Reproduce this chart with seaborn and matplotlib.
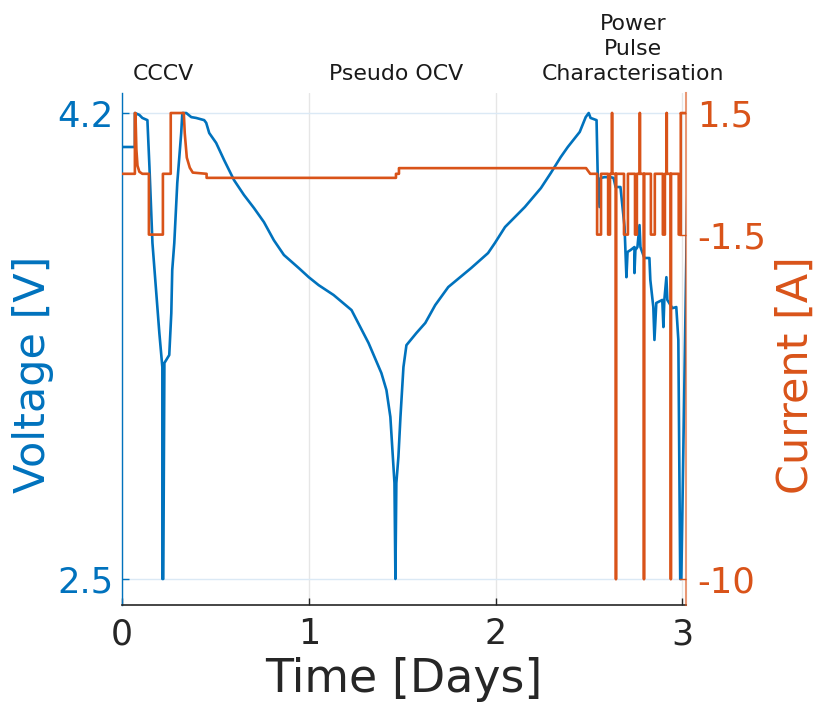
import numpy as np
import pandas as pd
import matplotlib
matplotlib.use("Agg")
import matplotlib.pyplot as plt
import seaborn as sns

# ---------------- data ----------------
volt_days = [0.0, 0.069, 0.069, 0.093, 0.109, 0.136, 0.147, 0.163, 0.200, 0.216, 0.216, 0.221,
             0.227, 0.253, 0.264, 0.269, 0.280, 0.296, 0.317, 0.323, 0.344, 0.371, 0.397, 0.440, 0.451,
             0.467, 0.504, 0.547, 0.600, 0.653, 0.707, 0.760, 0.813, 0.867, 0.947, 1.000,
             1.053, 1.133, 1.229, 1.320, 1.389, 1.416, 1.437, 1.448, 1.459, 1.464, 1.469,
             1.480, 1.491, 1.507, 1.523, 1.576, 1.624, 1.677, 1.747, 1.869, 1.960, 1.997,
             2.051, 2.157, 2.243, 2.296, 2.349, 2.387, 2.451, 2.483, 2.499, 2.509, 2.541,
             2.547, 2.557, 2.563, 2.584, 2.616, 2.632, 2.643, 2.669, 2.691, 2.701, 2.707,
             2.723, 2.744, 2.744, 2.749, 2.760, 2.771, 2.776, 2.797, 2.824, 2.829, 2.845,
             2.851, 2.861, 2.893, 2.899, 2.904, 2.915, 2.920, 2.947, 2.968, 2.979, 2.989,
             2.995, 3.027]
volt_values = [4.076, 4.076, 4.200, 4.193, 4.182, 4.174, 4.003, 3.726, 3.397, 3.273, 2.500, 2.500,
               3.288, 3.317, 3.470, 3.627, 3.726, 3.945, 4.127, 4.200, 4.200, 4.185, 4.182, 4.174, 4.164,
               4.127, 4.091, 4.028, 3.955, 3.901, 3.853, 3.802, 3.736, 3.682, 3.634, 3.601,
               3.572, 3.536, 3.481, 3.361, 3.251, 3.189, 3.091, 2.970, 2.850, 2.500, 2.850,
               2.945, 3.091, 3.273, 3.353, 3.397, 3.434, 3.499, 3.565, 3.634, 3.689, 3.726,
               3.784, 3.857, 3.926, 3.981, 4.039, 4.076, 4.131, 4.185, 4.200, 4.182, 4.174,
               3.981, 3.857, 3.963, 3.966, 3.966, 3.963, 3.930, 3.930, 3.784, 3.601, 3.693,
               3.700, 3.711, 3.616, 3.700, 3.711, 3.791, 3.711, 3.671, 3.671, 3.591, 3.492,
               3.372, 3.507, 3.518, 3.419, 3.518, 3.601, 3.518, 3.488, 3.492, 3.372, 2.500,
               2.500, 3.900]

curr_days = [0.0, 0.069, 0.069, 0.072, 0.077, 0.083, 0.093, 0.109, 0.144, 0.144, 0.219, 0.219,
             0.261, 0.261, 0.331, 0.336, 0.347, 0.363, 0.379, 0.453, 0.453, 1.467, 1.467,
             1.483, 1.483, 2.485, 2.507, 2.544, 2.544, 2.565, 2.565, 2.603, 2.603, 2.613,
             2.613, 2.624, 2.624, 2.624, 2.645, 2.645, 2.645, 2.688, 2.688, 2.709, 2.709,
             2.747, 2.747, 2.757, 2.757, 2.773, 2.773, 2.773, 2.795, 2.795, 2.795, 2.832,
             2.832, 2.853, 2.853, 2.896, 2.896, 2.907, 2.907, 2.917, 2.917, 2.917, 2.939,
             2.939, 2.939, 2.981, 2.981, 2.992, 2.992, 3.029]
curr_values = [0.0, 0.0, 1.5, 1.5, 0.6, 0.2, 0.05, 0.0, 0.0, -1.5, -1.5, 0.0,
               0.0, 1.5, 1.5, 1.0, 0.4, 0.15, 0.03, 0.0, -0.1, -0.1, 0.0,
               0.0, 0.14, 0.14, 0.0, 0.0, -1.5, -1.5, 0.0, 0.0, -1.5, -1.5,
               0.0, 0.0, 1.5, 0.0, 0.0, -10.0, 0.0, 0.0, -1.5, -1.5, 0.0,
               0.0, -1.5, -1.5, 0.0, 0.0, 1.5, 0.0, 0.0, -10.0, 0.0, 0.0,
               -1.5, -1.5, 0.0, 0.0, -1.5, -1.5, 0.0, 0.0, 1.5, 0.0, 0.0,
               -10.0, 0.0, 0.0, -1.5, -1.5, 1.5, 1.5]

phase_labels = ["CCCV", "Pseudo OCV", "Power\nPulse\nCharacterisation"]
phase_days = [0.219, 1.467, 2.736]

x_ticks = [0, 1, 2, 3]
volt_ticks = [2.5, 4.2]
curr_ticks = [-10, -1.5, 1.5]
curr_tick_labels = ["-10", "-1.5", "1.5"]

# ---------------- style ----------------
BLUE = "#0072BD"
ORANGE = "#D95319"

sns.set_theme(style="white")
plt.rcParams['font.family'] = ['DejaVu Sans']
plt.rcParams['axes.unicode_minus'] = False

fig = plt.figure(figsize=(8.17, 7.13), dpi=100)
ax = fig.add_axes([122 / 817, 1 - 605 / 713, 564 / 817, 512 / 713])
ax2 = ax.twinx()

vdf = pd.DataFrame({"Days": volt_days, "Voltage": volt_values})
cdf = pd.DataFrame({"Days": curr_days, "Current": curr_values})

sns.lineplot(data=vdf, x="Days", y="Voltage", ax=ax, color=BLUE, lw=1.9,
             estimator=None, sort=False, zorder=3)
sns.lineplot(data=cdf, x="Days", y="Current", ax=ax2, color=ORANGE, lw=1.9,
             estimator=None, sort=False, zorder=3)

ax.set_xlim(0, 3.02)
ax.set_ylim(2.405, 4.273)
ax2.set_ylim(-10.64, 1.994)

ax.set_xticks(x_ticks)
ax.set_yticks(volt_ticks)
ax2.set_yticks(curr_ticks)
ax2.set_yticklabels(curr_tick_labels)

# grids
for xv in x_ticks:
    ax.axvline(xv, color="#e6e6e6", lw=1.0, zorder=0)
for yv in volt_ticks:
    ax.axhline(yv, color="#dbe9f5", lw=1.0, zorder=0)

# spines
for a in (ax, ax2):
    a.spines["top"].set_visible(False)
ax.spines["left"].set_color(BLUE)
ax.spines["left"].set_linewidth(1.0)
ax.spines["bottom"].set_color("#262626")
ax.spines["bottom"].set_linewidth(1.2)
ax.spines["right"].set_visible(False)
ax2.spines["left"].set_visible(False)
ax2.spines["bottom"].set_visible(False)
ax2.spines["right"].set_color(ORANGE)
ax2.spines["right"].set_alpha(0.6)
ax2.spines["right"].set_linewidth(1.5)

ax.tick_params(axis="x", direction="in", length=5, width=1, colors="#262626",
               labelsize=25, labelcolor="#262626", pad=9, bottom=True)
ax.tick_params(axis="y", direction="in", length=5, width=1, colors=BLUE,
               labelsize=25.5, labelcolor=BLUE, pad=6, left=True)
ax2.tick_params(axis="y", direction="in", length=5, width=1, colors=ORANGE,
                labelsize=25.5, labelcolor=ORANGE, pad=8, right=True)

ax.set_xlabel("Time [Days]", fontsize=33, color="#262626", labelpad=4)
ax.set_ylabel("Voltage [V]", fontsize=31, color=BLUE)
ax2.set_ylabel("Current [A]", fontsize=31, color=ORANGE)
ax.yaxis.set_label_coords(-0.12, 0.45)
ax2.yaxis.set_label_coords(1.158, 0.45)

for lab, d in zip(phase_labels, phase_days):
    ax.text(d, 1.025, lab, transform=ax.get_xaxis_transform(), ha="center",
            va="baseline", multialignment="center", fontsize=15.8, color="#1a1a1a",
            linespacing=1.32)

fig.savefig("out.png", dpi=100)
